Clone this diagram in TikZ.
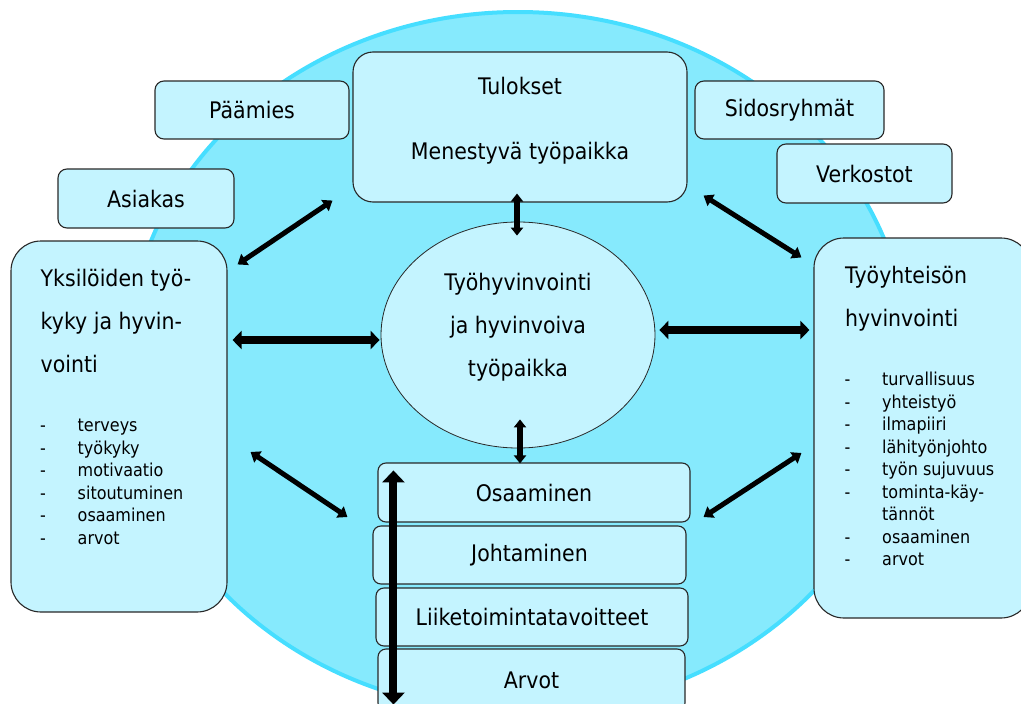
\documentclass[tikz,border=0pt]{standalone}
\usepackage{fontspec}
\setmainfont{DejaVu Sans}[FakeStretch=0.9]
\usetikzlibrary{shapes.geometric,arrows.meta}

\definecolor{ringfill}{RGB}{134,234,253}
\definecolor{ringedge}{RGB}{70,222,255}
\definecolor{boxfill}{RGB}{196,244,255}
\definecolor{boxline}{RGB}{40,40,40}

\newcommand{\labelsize}{\fontsize{22.8}{27}\selectfont}
\newcommand{\listsize}{\fontsize{17.8}{22.5}\selectfont}
\newcommand{\dashitem}{\makebox[37.5pt][l]{-}}

\tikzset{
  ring/.style={fill=ringfill, draw=ringedge, line width=4pt},
  box/.style={draw=boxline, fill=boxfill, line width=1.1pt, rounded corners=9pt, inner sep=0pt, font=\labelsize},
  bigbox/.style={box, rounded corners=30pt},
  label text/.style={inner sep=0pt, align=left},
  arr/.style={{Triangle[width=13pt,length=9pt]}-{Triangle[width=13pt,length=9pt]}, line width=5pt},
  arr thick/.style={{Triangle[width=18pt,length=9pt]}-{Triangle[width=18pt,length=9pt]}, line width=8.5pt},
  arr short/.style={{Triangle[width=12pt,length=8pt]}-{Triangle[width=12pt,length=8pt]}, line width=5.5pt},
  arr long/.style={{Triangle[width=22pt,length=12pt]}-{Triangle[width=22pt,length=12pt]}, line width=8pt},
}

\begin{document}
\begin{tikzpicture}[x=1pt, y=-1pt]

\useasboundingbox (0,0) rectangle (1021,704);
\fill[white] (0,0) rectangle (1021,704);
\clip (0,0) rectangle (1021,704);

\draw[ring] (518,362) ellipse [x radius=391, y radius=350];

\coordinate (paamies-pos) at (252,110);
\coordinate (asiakas-pos) at (146,198.5);
\coordinate (sidos-pos) at (789.5,110);
\coordinate (verkostot-pos) at (864.5,173.5);
\coordinate (tulokset-pos) at (520,127);
\coordinate (yksilot-pos) at (119,426.5);
\coordinate (yhteiso-pos) at (922.5,428);
\coordinate (hyvinvointi-pos) at (518,335);
\coordinate (osaaminen-pos) at (534,492.5);
\coordinate (johtaminen-pos) at (529.5,555);
\coordinate (liiketoiminta-pos) at (532,617);
\coordinate (arvot-pos) at (531.5,680);

\node[box, minimum width=194pt, minimum height=58pt] (paamies) at (paamies-pos) {Päämies};
\node[box, minimum width=176pt, minimum height=59pt] (asiakas) at (asiakas-pos) {Asiakas};
\node[box, minimum width=189pt, minimum height=58pt] (sidos) at (sidos-pos) {Sidosryhmät};
\node[box, minimum width=175pt, minimum height=59pt] (verkostot) at (verkostot-pos) {Verkostot};

\node[box, rounded corners=20pt, minimum width=334pt, minimum height=150pt] (tulokset) at (tulokset-pos) {};
\node[label text, align=center, anchor=north, font=\fontsize{22.8}{65}\selectfont] (tulokset-text) at (520,77) {Tulokset\\Menestyvä työpaikka};

\node[bigbox, minimum width=216pt, minimum height=371pt] (yksilot) at (yksilot-pos) {};
\node[label text, anchor=north west, font=\fontsize{22.8}{43}\selectfont] (yksilot-text) at (40.5,269.4) {Yksilöiden työ-\\kyky ja hyvin-\\vointi};
\node[label text, anchor=north west, font=\listsize] (yksilot-list) at (40,419.2) {\dashitem terveys\\\dashitem työkyky\\\dashitem motivaatio\\\dashitem sitoutuminen\\\dashitem osaaminen\\\dashitem arvot};

\node[bigbox, minimum width=217pt, minimum height=380pt] (yhteiso) at (yhteiso-pos) {};
\node[label text, anchor=north west, font=\fontsize{22.8}{43.4}\selectfont] (yhteiso-text) at (845,266) {Työyhteisön\\hyvinvointi};
\node[label text, anchor=north west, font=\listsize] (yhteiso-list) at (844.5,372.2) {\dashitem turvallisuus\\\dashitem yhteistyö\\\dashitem ilmapiiri\\\dashitem lähityönjohto\\\dashitem työn sujuvuus\\\dashitem tominta-käy-\\\makebox[37.5pt]{}tännöt\\\dashitem osaaminen\\\dashitem arvot};

\node[ellipse, draw=boxline, fill=boxfill, line width=0.8pt, inner sep=0pt, minimum width=274pt, minimum height=226pt] (hyvinvointi) at (hyvinvointi-pos) {};
\node[label text, align=center, anchor=north, font=\fontsize{22.8}{43.3}\selectfont] (hyvinvointi-text) at (518,272.7) {Työhyvinvointi\\ja hyvinvoiva\\työpaikka};

\node[box, rounded corners=8pt, minimum width=312pt, minimum height=59pt] (osaaminen) at (osaaminen-pos) {Osaaminen};
\node[box, rounded corners=8pt, minimum width=313pt, minimum height=58pt] (johtaminen) at (johtaminen-pos) {Johtaminen};
\node[box, rounded corners=8pt, minimum width=312pt, minimum height=58pt] (liiketoiminta) at (liiketoiminta-pos) {Liiketoimintatavoitteet};
\node[box, rounded corners=8pt, minimum width=307pt, minimum height=62pt] (arvot) at (arvot-pos) {Arvot};

\draw[arr] ([xshift=10,yshift=-24]yksilot.north east) -- ([xshift=-20,yshift=2]tulokset.south west);
\draw[arr thick] ([xshift=5,yshift=86.5]yksilot.east) -- ([xshift=-1,yshift=-5]hyvinvointi.west);
\draw[arr short] ([xshift=-3,yshift=9]tulokset.south) -- ([xshift=-1,yshift=-14]hyvinvointi.north);
\draw[arr] ([xshift=16,yshift=7]tulokset.south east) -- ([xshift=-12,yshift=-20]yhteiso.north west);
\draw[arr thick] ([xshift=4,yshift=5]hyvinvointi.east) -- ([xshift=-4,yshift=98]yhteiso.west);
\draw[arr] ([xshift=23,yshift=-25.5]yksilot.east) -- ([xshift=-30,yshift=-24.5]osaaminen.west);
\draw[arr short] ([xshift=2,yshift=29]hyvinvointi.south) -- ([xshift=-14,yshift=-1]osaaminen.north);
\draw[arr] ([xshift=13,yshift=-24.5]osaaminen.east) -- ([xshift=-12,yshift=-25]yhteiso.west);
\draw[arr long] ([xshift=16,yshift=-8]osaaminen.north west) -- ([xshift=16,yshift=7]arvot.south west);

\end{tikzpicture}
\end{document}
